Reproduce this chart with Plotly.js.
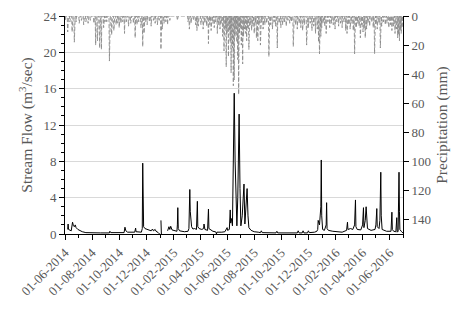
<!DOCTYPE html>
<html>
<head>
<meta charset="utf-8">
<script src="https://cdn.plot.ly/plotly-3.0.1.min.js"></script>
<style>html,body{margin:0;padding:0;background:#fff;}#chart{width:476px;height:311px;}</style>
</head>
<body>
<div id="chart"></div>
<script>
// ---- Stream flow (m3/sec), readings at key dates (null = missing data) ----
const flowDates = [
 "2014-06-07","2014-06-08","2014-06-09","2014-06-12","2014-06-15","2014-06-17","2014-06-18","2014-06-20","2014-06-22","2014-06-24","2014-06-26","2014-06-30",
 "2014-07-05","2014-07-10","2014-07-18","2014-08-01","2014-08-20","2014-09-09","2014-09-10","2014-09-12","2014-09-25",
 "2014-10-12","2014-10-14","2014-10-16","2014-10-20","2014-11-05","2014-11-07","2014-11-08","2014-11-20","2014-11-22","2014-11-23","2014-11-24","2014-11-25","2014-11-28",
 "2014-12-03","2014-12-08","2014-12-12","2014-12-15","2014-12-17","2014-12-21","2014-12-23","2014-12-28","2014-12-31","2015-01-01",
 "2015-01-03","2015-01-04","2015-01-05",
 "2015-01-18","2015-01-21","2015-01-23","2015-01-25","2015-01-28","2015-02-03","2015-02-08","2015-02-09","2015-02-10","2015-02-11","2015-02-14","2015-02-25",
 "2015-03-05","2015-03-07","2015-03-09","2015-03-10","2015-03-11","2015-03-13","2015-03-16","2015-03-20","2015-03-24","2015-03-26","2015-03-27","2015-03-30",
 "2015-04-05","2015-04-09","2015-04-10","2015-04-12","2015-04-18","2015-04-20","2015-04-21","2015-04-25","2015-04-30",
 "2015-05-05","2015-05-07","2015-05-08","2015-05-09","2015-05-20","2015-05-27","2015-06-01","2015-06-02","2015-06-06","2015-06-08","2015-06-09","2015-06-11","2015-06-13",
 "2015-06-14","2015-06-16","2015-06-17","2015-06-19","2015-06-21","2015-06-23","2015-06-25","2015-06-27","2015-06-28","2015-06-30",
 "2015-07-02","2015-07-05","2015-07-08","2015-07-09","2015-07-11","2015-07-14","2015-07-16","2015-07-18","2015-07-20","2015-07-25",
 "2015-08-01","2015-08-10","2015-08-15","2015-08-17","2015-08-19","2015-09-19","2015-09-21","2015-09-23","2015-10-20",
 "2015-11-06","2015-11-08","2015-11-10","2015-11-17","2015-11-19","2015-11-21","2015-11-29","2015-12-01","2015-12-03",
 "2015-12-15","2015-12-20","2015-12-22","2015-12-23","2015-12-26","2015-12-29","2015-12-30","2015-12-31","2016-01-02","2016-01-06",
 "2016-01-10","2016-01-11","2016-01-12","2016-01-15","2016-01-25","2016-02-05","2016-02-10","2016-02-15","2016-02-25","2016-02-27","2016-02-28",
 "2016-03-05","2016-03-10","2016-03-14","2016-03-16","2016-03-17","2016-03-20","2016-03-28","2016-04-01","2016-04-03","2016-04-04","2016-04-07",
 "2016-04-09","2016-04-10","2016-04-12","2016-04-20","2016-04-29","2016-05-01","2016-05-03","2016-05-04","2016-05-08","2016-05-10","2016-05-12",
 "2016-05-13","2016-05-15","2016-05-25","2016-06-04","2016-06-06","2016-06-07","2016-06-10","2016-06-15","2016-06-17","2016-06-18",
 "2016-06-20","2016-06-21","2016-06-22","2016-06-23","2016-06-24","2016-06-27","2016-07-01"
];
const flowValues = [
 0.5,1.1,0.5,0.4,0.35,1.0,1.3,0.9,0.8,1.0,0.7,0.5,
 0.35,0.25,0.15,0.12,0.12,0.12,0.3,0.15,0.12,
 0.15,0.75,0.35,0.2,0.2,0.65,0.25,0.2,0.6,7.8,2.0,0.8,0.6,
 0.5,0.45,0.35,0.55,0.35,0.5,0.3,0.15,0.0,null,
 1.5,0.0,null,
 0.35,0.8,0.5,0.85,0.45,0.35,0.3,1.0,2.9,0.6,0.35,0.25,
 0.3,0.6,4.9,2.5,1.7,0.8,0.55,0.6,0.5,3.6,0.8,0.6,
 0.5,0.6,1.1,0.5,0.4,2.75,0.6,0.45,0.3,
 0.25,0.2,0.0,0.2,0.2,0.25,0.7,0.4,0.5,2.65,1.2,1.7,0.9,
 3.5,12.0,15.5,8.0,3.0,0.9,4.0,10.0,13.2,5.0,
 0.9,2.0,4.5,5.5,1.1,3.5,5.0,2.0,0.7,0.4,
 0.25,0.2,0.15,0.35,0.15,0.12,0.3,0.12,0.12,
 0.12,0.35,0.12,0.12,0.35,0.12,0.12,0.35,0.15,
 0.2,0.3,0.5,1.5,1.0,3.0,8.15,2.0,0.5,0.4,
 1.0,3.45,0.6,0.4,0.3,0.25,0.3,0.2,0.4,1.3,0.5,
 0.6,0.5,1.0,3.75,0.8,0.5,0.45,1.0,2.9,0.7,1.5,
 3.0,2.0,0.6,0.4,0.5,1.0,2.8,0.8,0.6,1.5,6.8,
 2.0,0.5,0.3,0.3,2.4,0.5,0.3,0.25,1.8,0.2,
 0.3,6.25,6.8,2.5,0.5,0.3,0.1
];

// ---- Daily precipitation (mm): rain days; all other days are dry (0) ----
const rainDates = [
 "2014-06-02","2014-06-07","2014-06-12","2014-06-17","2014-06-22","2014-06-26",
 "2014-07-03","2014-07-08","2014-07-13","2014-07-18","2014-07-23","2014-07-28",
 "2014-08-05","2014-08-09","2014-08-13","2014-08-18","2014-08-22","2014-08-27","2014-08-30",
 "2014-09-03","2014-09-09","2014-09-14","2014-09-19","2014-09-24","2014-09-28",
 "2014-10-01","2014-10-05","2014-10-09","2014-10-13","2014-10-17","2014-10-22","2014-10-27",
 "2014-11-02","2014-11-06","2014-11-10","2014-11-14","2014-11-19","2014-11-23","2014-11-26","2014-11-29",
 "2014-12-03","2014-12-08","2014-12-12","2014-12-17","2014-12-21","2014-12-26","2014-12-30",
 "2015-01-03","2015-01-06","2015-01-10","2015-01-14","2015-01-18","2015-01-23",
 "2015-02-09",
 "2015-03-05","2015-03-08","2015-03-12","2015-03-17","2015-03-22","2015-03-25","2015-03-28",
 "2015-04-03","2015-04-08","2015-04-12","2015-04-16","2015-04-20","2015-04-23","2015-04-26","2015-04-30",
 "2015-05-03","2015-05-06","2015-05-10","2015-05-13","2015-05-16","2015-05-19","2015-05-22","2015-05-25","2015-05-28","2015-05-30",
 "2015-06-01","2015-06-04","2015-06-06","2015-06-08","2015-06-10","2015-06-12","2015-06-13","2015-06-15","2015-06-17","2015-06-19",
 "2015-06-21","2015-06-23","2015-06-25","2015-06-27","2015-06-29",
 "2015-07-01","2015-07-03","2015-07-06","2015-07-08","2015-07-10","2015-07-13","2015-07-15","2015-07-17","2015-07-20","2015-07-23","2015-07-26","2015-07-29",
 "2015-08-01","2015-08-04","2015-08-06","2015-08-09","2015-08-12","2015-08-15","2015-08-18","2015-08-21","2015-08-25","2015-08-29",
 "2015-09-03","2015-09-07","2015-09-11","2015-09-15","2015-09-18","2015-09-22","2015-09-26","2015-09-30",
 "2015-10-04","2015-10-08","2015-10-12","2015-10-16","2015-10-20","2015-10-24","2015-10-28",
 "2015-11-02","2015-11-06","2015-11-10","2015-11-14","2015-11-18","2015-11-22","2015-11-27",
 "2015-12-01","2015-12-05","2015-12-09","2015-12-13","2015-12-17","2015-12-21","2015-12-24","2015-12-26","2015-12-29","2015-12-31",
 "2016-01-03","2016-01-07","2016-01-10","2016-01-14","2016-01-18","2016-01-22","2016-01-26","2016-01-30",
 "2016-02-03","2016-02-07","2016-02-11","2016-02-15","2016-02-19","2016-02-23","2016-02-26",
 "2016-03-01","2016-03-04","2016-03-08","2016-03-11","2016-03-14","2016-03-18","2016-03-21","2016-03-24","2016-03-27","2016-03-30",
 "2016-04-02","2016-04-05","2016-04-07","2016-04-10","2016-04-13","2016-04-17","2016-04-21","2016-04-25","2016-04-28",
 "2016-05-01","2016-05-04","2016-05-08","2016-05-11","2016-05-14","2016-05-18","2016-05-22","2016-05-26","2016-05-30",
 "2016-06-03","2016-06-06","2016-06-10","2016-06-13","2016-06-16","2016-06-19","2016-06-21","2016-06-23","2016-06-25","2016-06-27","2016-06-29"
];
const rainMM = [
 3,11,4,11,18,4,
 5,3,6,4,5,3,
 5,20,17,22,23,8,4,
 4,31,13,10,6,5,
 8,5,4,12,4,7,5,
 5,15,6,4,8,21,12,4,
 6,4,7,3,5,6,3,
 23,9,5,4,6,3,
 3,
 4,9,5,3,6,10,7,
 6,9,5,7,19,6,10,5,
 8,4,12,6,9,5,14,24,8,35,
 12,28,10,18,39,15,22,48,44,14,
 9,18,30,54,12,
 8,20,33,14,9,12,17,8,23,6,10,7,
 12,5,15,17,6,20,4,9,6,5,
 28,6,9,4,7,22,5,8,
 6,4,7,3,5,4,21,
 6,9,5,8,10,6,20,
 8,5,10,7,12,9,18,26,14,8,
 5,7,12,4,8,5,6,9,
 4,7,5,8,4,10,12,
 6,9,5,10,26,8,5,7,15,6,
 11,8,15,9,5,7,4,8,26,
 6,9,5,22,7,4,6,5,8,
 6,10,7,12,9,15,13,17,10,12,8
];
const seriesStart = "2014-06-01";
const seriesEnd = "2016-06-30";

// build the daily precipitation series (dry days = 0)
const rainMap = {};
rainDates.forEach((d, i) => { rainMap[d] = rainMM[i]; });
const pDates = [], pVals = [];
for (let t = Date.parse(seriesStart + "T00:00:00Z"); t <= Date.parse(seriesEnd + "T00:00:00Z"); t += 86400000) {
  const ds = new Date(t).toISOString().slice(0, 10);
  pDates.push(ds);
  pVals.push(rainMap[ds] !== undefined ? rainMap[ds] : 0);
}

const serif = "Liberation Serif";
const grey = "#595959";

const traces = [
  { x: flowDates, y: flowValues, type: "scatter", mode: "lines", yaxis: "y",
    line: { color: "#000000", width: 1 }, connectgaps: false, hoverinfo: "skip" },
  { x: pDates, y: pVals, type: "scatter", mode: "lines", yaxis: "y2",
    line: { color: "#8a8a8a", width: 0.9, dash: "4px,2px" }, hoverinfo: "skip" }
];

const layout = {
  width: 476, height: 311,
  margin: { l: 65, r: 73, t: 16, b: 77, pad: 0 },
  paper_bgcolor: "#ffffff", plot_bgcolor: "#ffffff",
  showlegend: false,
  font: { family: serif, color: grey, size: 13 },
  xaxis: {
    type: "date", range: ["2014-06-01", "2016-07-01"],
    tick0: "2014-06-01", dtick: "M2", tickformat: "%d-%m-%Y", tickangle: -45,
    ticks: "outside", ticklen: 5, tickcolor: "#000", tickwidth: 1,
    minor: { dtick: "M1", ticks: "outside", ticklen: 3, tickcolor: "#000", showgrid: false },
    showline: true, linecolor: "#000", linewidth: 1, showgrid: false, zeroline: false,
    tickfont: { family: serif, size: 13, color: grey }, automargin: false
  },
  yaxis: {
    range: [0, 24], dtick: 4, tick0: 0,
    ticks: "outside", ticklen: 5, tickcolor: "#000",
    minor: { dtick: 1, ticks: "outside", ticklen: 3, tickcolor: "#000", showgrid: false },
    showline: true, linecolor: "#000", linewidth: 1,
    showgrid: true, gridcolor: "#d9d9d9", gridwidth: 1, zeroline: false,
    tickfont: { family: serif, size: 13, color: grey },
    title: { text: "Stream Flow (m<sup>3</sup>/sec)", font: { family: serif, size: 15.5, color: grey }, standoff: 6 },
    automargin: false
  },
  yaxis2: {
    overlaying: "y", side: "right", range: [150, 0], dtick: 20, tick0: 0,
    ticks: "outside", ticklen: 5, tickcolor: "#000",
    showline: true, linecolor: "#000", linewidth: 1,
    showgrid: false, zeroline: false,
    tickfont: { family: serif, size: 13, color: grey },
    title: { text: "Precipitation (mm)", font: { family: serif, size: 15.5, color: grey }, standoff: 6 },
    automargin: false
  }
};

Plotly.newPlot("chart", traces, layout, { staticPlot: true, displayModeBar: false });
</script>
</body>
</html>
